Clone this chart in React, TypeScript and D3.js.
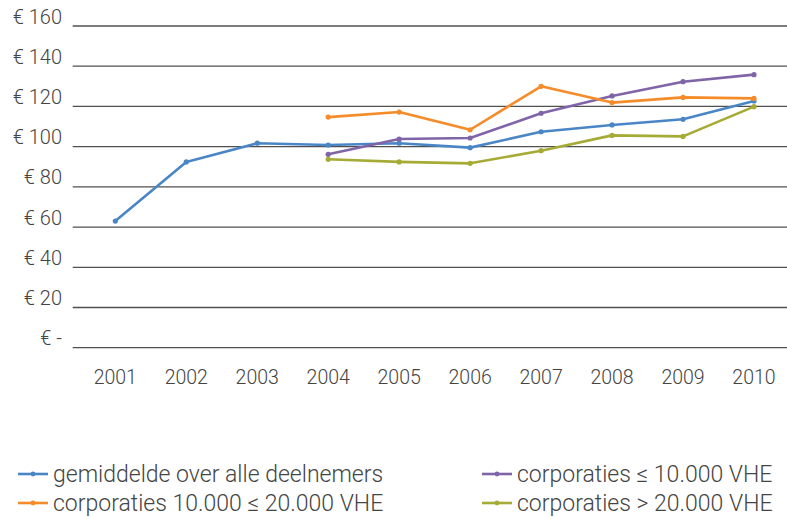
import React from 'react';
import { scaleLinear, scalePoint, line } from 'd3';

const years = ['2001', '2002', '2003', '2004', '2005', '2006', '2007', '2008', '2009', '2010'];
const yTicks = [0, 20, 40, 60, 80, 100, 120, 140, 160];

// null = no value for that year
const gemiddelde = [63, 92.4, 101.7, 100.8, 101.7, 99.5, 107.4, 110.8, 113.6, 122.7];
const corpKlein = [null, null, null, 96.2, 103.8, 104.3, 116.6, 125.2, 132.3, 135.8];
const corpMidden = [null, null, null, 114.7, 117.2, 108.4, 130, 121.9, 124.5, 124];
const corpGroot = [null, null, null, 93.7, 92.4, 91.7, 98, 105.6, 105.1, 119.9];

const series = [
    { name: 'gemiddelde over alle deelnemers', values: gemiddelde, color: '#4a86c6' },
    { name: 'corporaties ≤ 10.000 VHE', values: corpKlein, color: '#8064a8' },
    { name: 'corporaties 10.000 ≤ 20.000 VHE', values: corpMidden, color: '#f68b2a' },
    { name: 'corporaties > 20.000 VHE', values: corpGroot, color: '#a6ab36' },
];

const width = 787;
const height = 517;
const font = 'Roboto, "Noto Sans", sans-serif';
const textColor = '#444';

export default function App() {
    const x = scalePoint<string>()
        .domain(years)
        .range([115.3, 754]);

    const y = scaleLinear()
        .domain([0, 160])
        .range([347.7, 26]);

    const drawLine = line<number | null>()
        .defined(d => d != null)
        .x((d, i) => x(years[i]) as number)
        .y(d => y(d as number));

    // legend: two columns, order as in the reference
    const legendPos = [
        { lx: 18, ly: 474 },
        { lx: 482, ly: 474 },
        { lx: 18, ly: 503 },
        { lx: 482, ly: 503 },
    ];

    return (
        <div style={{ position: 'absolute', left: 0, top: 0 }}>
            <svg width={width} height={height} style={{ display: 'block', background: '#fff' }}>
                {yTicks.map(t => (
                    <g key={t}>
                        <line x1={72.7} x2={787} y1={y(t)} y2={y(t)} stroke="#505050" strokeWidth={1.3} />
                        <text
                            x={62}
                            y={y(t)}
                            dy="-0.12em"
                            textAnchor="end"
                            fontFamily={font}
                            fontWeight={300}
                            fontSize={20}
                            fill={textColor}
                        >
                            {t === 0 ? '€ -' : `€ ${t}`}
                        </text>
                    </g>
                ))}
                {years.map(yr => (
                    <text
                        key={yr}
                        x={x(yr)}
                        y={384}
                        textAnchor="middle"
                        fontFamily={font}
                        fontWeight={300}
                        fontSize={19.5}
                        fill={textColor}
                    >
                        {yr}
                    </text>
                ))}
                {series.map(s => (
                    <g key={s.name}>
                        <path d={drawLine(s.values) || ''} fill="none" stroke={s.color} strokeWidth={2.6} strokeLinejoin="round" />
                        {s.values.map((v, i) => v == null ? null : (
                            <circle key={i} cx={x(years[i])} cy={y(v)} r={2.6} fill={s.color} />
                        ))}
                    </g>
                ))}
                {series.map((s, i) => (
                    <g key={'lg' + i} transform={`translate(${legendPos[i].lx},${legendPos[i].ly})`}>
                        <line x1={0} x2={30} y1={0} y2={0} stroke={s.color} strokeWidth={2.6} />
                        <circle cx={15} cy={0} r={2.4} fill={s.color} />
                        <text x={35} y={0} dy="0.35em" fontFamily={font} fontWeight={300} fontSize={23} fill={textColor}>
                            {s.name}
                        </text>
                    </g>
                ))}
            </svg>
        </div>
    );
}
